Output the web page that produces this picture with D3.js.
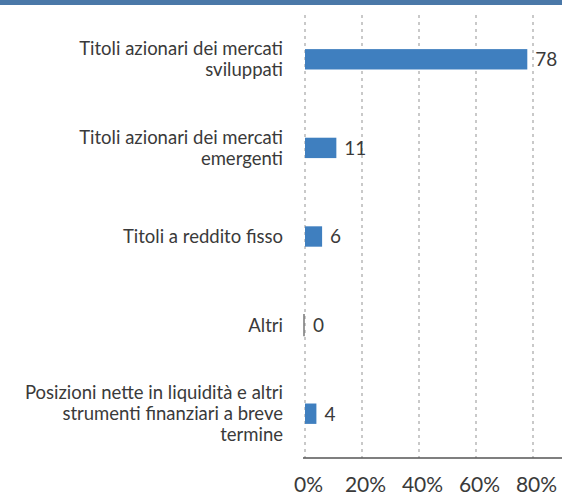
<!DOCTYPE html>
<html>
<head>
<meta charset="utf-8">
<script src="https://cdn.jsdelivr.net/npm/d3@7"></script>
<style>
  body { margin: 0; background: #fff; }
  text { font-family: Lato, "Open Sans", sans-serif; fill: #3a3a3a; }
</style>
</head>
<body>
<svg id="chart" width="562" height="495"></svg>
<script>
const categories = [
  ["Titoli azionari dei mercati", "sviluppati"],
  ["Titoli azionari dei mercati", "emergenti"],
  ["Titoli a reddito fisso"],
  ["Altri"],
  ["Posizioni nette in liquidità e altri", "strumenti finanziari a breve", "termine"]
];
const values = [78, 11, 6, 0, 4];
const ticks = [0, 20, 40, 60, 80];

const svg = d3.select("#chart");
const width = +svg.attr("width");
const height = +svg.attr("height");
const margin = { top: 15, left: 305, bottom: 458 };

// thin header strip
svg.append("rect")
    .attr("x", 0).attr("y", 0)
    .attr("width", width).attr("height", 5)
    .attr("fill", "#4a78a8");

const x = d3.scaleLinear()
    .domain([0, 80])
    .range([margin.left, 533]);

const y = d3.scaleBand()
    .domain(d3.range(categories.length))
    .range([margin.top, margin.bottom])
    .paddingInner(0.77)
    .paddingOuter(0.385);

// dashed gridlines
svg.append("g")
  .selectAll("line")
  .data(ticks)
  .join("line")
    .attr("x1", d => x(d)).attr("x2", d => x(d))
    .attr("y1", margin.top).attr("y2", margin.bottom)
    .attr("stroke", "#b8b8b8")
    .attr("stroke-width", 1.5)
    .attr("stroke-dasharray", "3,4");

// x axis
const xAxis = svg.append("g")
    .attr("transform", `translate(0,${margin.bottom})`)
    .call(d3.axisBottom(x).tickValues(ticks).tickFormat(d => d + "%").tickSize(0).tickPadding(19));
xAxis.select(".domain").remove();
xAxis.selectAll("text")
    .attr("font-size", 21)
    .attr("dx", 3)
    .style("font-family", "Lato, sans-serif")
    .attr("fill", "#3a3a3a");
svg.append("line")
    .attr("x1", margin.left - 2).attr("x2", width)
    .attr("y1", margin.bottom).attr("y2", margin.bottom)
    .attr("stroke", "#555").attr("stroke-width", 1.5);

// bars
svg.append("g")
  .selectAll("rect")
  .data(values)
  .join("rect")
    .attr("x", x(0))
    .attr("y", (d, i) => y(i))
    .attr("width", d => x(d) - x(0))
    .attr("height", y.bandwidth())
    .attr("fill", "#3f7fbf");

// zero-value marker
svg.append("g")
  .selectAll("line")
  .data(values.map((v, i) => [v, i]).filter(d => d[0] === 0))
  .join("line")
    .attr("x1", x(0) - 1).attr("x2", x(0) - 1)
    .attr("y1", d => y(d[1]) - 1)
    .attr("y2", d => y(d[1]) + y.bandwidth() + 1)
    .attr("stroke", "#777").attr("stroke-width", 1.5);

// value labels
svg.append("g")
  .selectAll("text")
  .data(values)
  .join("text")
    .attr("x", d => x(d) + 8)
    .attr("y", (d, i) => y(i) + y.bandwidth() / 2)
    .attr("dy", "0.36em")
    .attr("font-size", 19)
    .text(d => d);

// category labels
const lineH = 21;
svg.append("g")
  .selectAll("text")
  .data(categories)
  .join("text")
    .attr("x", 283)
    .attr("y", (d, i) => y(i) + y.bandwidth() / 2 - (d.length - 1) * lineH / 2)
    .attr("text-anchor", "end")
    .attr("font-size", 18.5)
  .selectAll("tspan")
  .data(d => d)
  .join("tspan")
    .attr("x", 283)
    .attr("dy", (d, i) => i === 0 ? "0.35em" : lineH)
    .text(d => d);
</script>
</body>
</html>
